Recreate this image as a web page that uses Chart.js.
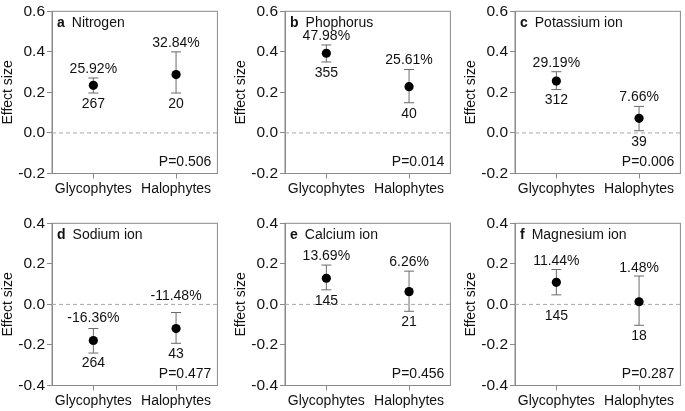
<!DOCTYPE html>
<html>
<head>
<meta charset="utf-8">
<script src="https://cdn.jsdelivr.net/npm/chart.js@4/dist/chart.umd.min.js"></script>
<style>
  html, body { margin: 0; padding: 0; background: #fff; overflow: hidden; }
  #wrap { position: relative; width: 685px; height: 411px; }
  canvas { position: absolute; }
</style>
</head>
<body>
<div id="wrap"></div>
<script>
// ---- data ----
const categories = ['Glycophytes', 'Halophytes'];
const panelLetters = ['a', 'b', 'c', 'd', 'e', 'f'];
const panelNames = ['Nitrogen', 'Phophorus', 'Potassium ion', 'Sodium ion', 'Calcium ion', 'Magnesium ion'];

const effectMeans = [
    [0.235, 0.288],
    [0.393, 0.228],
    [0.256, 0.072],
    [-0.178, -0.119],
    [0.129, 0.063],
    [0.109, 0.013]
];
const ciUpper = [
    [0.271, 0.400],
    [0.434, 0.313],
    [0.302, 0.131],
    [-0.119, -0.040],
    [0.194, 0.164],
    [0.172, 0.140]
];
const ciLower = [
    [0.197, 0.197],
    [0.350, 0.149],
    [0.214, 0.011],
    [-0.240, -0.192],
    [0.072, -0.034],
    [0.047, -0.103]
];
const percentLabels = [
    ['25.92%', '32.84%'],
    ['47.98%', '25.61%'],
    ['29.19%', '7.66%'],
    ['-16.36%', '-11.48%'],
    ['13.69%', '6.26%'],
    ['11.44%', '1.48%']
];
const sampleSizes = [
    [267, 20],
    [355, 40],
    [312, 39],
    [264, 43],
    [145, 21],
    [145, 18]
];
const pLabels = ['P=0.506', 'P=0.014', 'P=0.006', 'P=0.477', 'P=0.456', 'P=0.287'];
const yMins = [-0.2, -0.2, -0.2, -0.4, -0.4, -0.4];
const yMaxs = [0.6, 0.6, 0.6, 0.4, 0.4, 0.4];

// ---- layout / style ----
const FONT = "'Liberation Sans', Arial, sans-serif";
const FS = 14;
const TICK_FS = 15.5;
const TEXT = '#111';
const FRAME = '#8a8a8a';
const colLefts = [0, 232.5, 463];
const rowTops = [0, 211.5];
const CW = 222, CH = 205;

// a few labels sit a bit further from their bars in the original
const labelGaps = {
    3: { pct: [10, 16], n: [10, 11] },
    5: { pct: [8, 8], n: [21, 11] }
};

const decor = {
    id: 'decor',
    beforeDatasetsDraw(chart) {
        const i = chart.options.plugins.decor.index;
        const { ctx, chartArea: ca } = chart;
        const x = chart.scales.x, y = chart.scales.y;
        ctx.save();
        // frame
        ctx.strokeStyle = FRAME;
        ctx.lineWidth = 1;
        ctx.strokeRect(ca.left, ca.top, ca.right - ca.left, ca.bottom - ca.top);
        // zero line
        const y0 = y.getPixelForValue(0);
        ctx.strokeStyle = '#a8a8a8';
        ctx.setLineDash([4, 3]);
        ctx.beginPath();
        ctx.moveTo(ca.left, y0);
        ctx.lineTo(ca.right, y0);
        ctx.stroke();
        ctx.setLineDash([]);
        // error bars
        ctx.strokeStyle = '#6a6a6a';
        categories.forEach((c, j) => {
            const px = x.getPixelForValue(j);
            const top = y.getPixelForValue(ciUpper[i][j]);
            const bot = y.getPixelForValue(ciLower[i][j]);
            ctx.beginPath();
            ctx.moveTo(px, top); ctx.lineTo(px, bot);
            ctx.moveTo(px - 5, top); ctx.lineTo(px + 5, top);
            ctx.moveTo(px - 5, bot); ctx.lineTo(px + 5, bot);
            ctx.stroke();
        });
        ctx.restore();
    },
    afterDatasetsDraw(chart) {
        const i = chart.options.plugins.decor.index;
        const { ctx, chartArea: ca } = chart;
        const x = chart.scales.x, y = chart.scales.y;
        const gaps = labelGaps[i] || { pct: [9, 9], n: [11, 11] };
        ctx.save();
        ctx.fillStyle = TEXT;
        ctx.textBaseline = 'middle';
        ctx.font = FS + 'px ' + FONT;
        ctx.textAlign = 'center';
        categories.forEach((c, j) => {
            const px = x.getPixelForValue(j);
            const top = y.getPixelForValue(ciUpper[i][j]);
            const bot = y.getPixelForValue(ciLower[i][j]);
            ctx.fillText(percentLabels[i][j], px, top - gaps.pct[j]);
            ctx.fillText(String(sampleSizes[i][j]), px, bot + gaps.n[j]);
        });
        // P value
        ctx.textAlign = 'right';
        ctx.fillText(pLabels[i], ca.right - 6, ca.bottom - 11.5);
        // panel title
        ctx.textAlign = 'left';
        ctx.font = 'bold ' + FS + 'px ' + FONT;
        const tx = ca.left + 5;
        ctx.fillText(panelLetters[i], tx, ca.top + 12);
        const w = ctx.measureText(panelLetters[i]).width;
        ctx.font = FS + 'px ' + FONT;
        ctx.fillText(panelNames[i], tx + w + 7, ca.top + 12);
        ctx.restore();
    }
};

function renderPanel(i) {
    const canvas = document.createElement('canvas');
    canvas.width = CW;
    canvas.height = CH;
    canvas.style.left = colLefts[i % 3] + 'px';
    canvas.style.top = rowTops[Math.floor(i / 3)] + 'px';
    canvas.style.width = CW + 'px';
    canvas.style.height = CH + 'px';
    document.getElementById('wrap').appendChild(canvas);

    const font = { family: FONT, size: FS };

    new Chart(canvas.getContext('2d'), {
        type: 'line',
        data: {
            labels: categories,
            datasets: [{
                data: effectMeans[i],
                showLine: false,
                pointRadius: 4.6,
                pointBackgroundColor: '#000',
                pointBorderColor: '#000',
                pointBorderWidth: 0
            }]
        },
        options: {
            responsive: false,
            animation: false,
            layout: { padding: { top: 6.5, right: 3, left: 0, bottom: 0 } },
            plugins: {
                legend: { display: false },
                tooltip: { enabled: false },
                decor: { index: i }
            },
            scales: {
                x: {
                    type: 'category',
                    offset: true,
                    grid: { drawOnChartArea: false, tickLength: 5, color: FRAME, offset: false },
                    border: { color: FRAME },
                    ticks: { font: font, color: TEXT, padding: 2, maxRotation: 0 },
                    afterFit: s => { s.height = 31.5; }
                },
                y: {
                    min: yMins[i],
                    max: yMaxs[i],
                    grid: { drawOnChartArea: false, tickLength: 5, color: FRAME },
                    border: { color: FRAME },
                    ticks: {
                        stepSize: 0.2,
                        font: { family: FONT, size: TICK_FS },
                        color: TEXT,
                        padding: 2,
                        callback: v => Math.abs(v) < 1e-9 ? '0.0' : Number(v).toFixed(1)
                    },
                    title: { display: true, text: 'Effect size', font: font, color: TEXT, padding: { top: 0, bottom: 0 } },
                    afterFit: s => { s.width = 52; }
                }
            }
        },
        plugins: [decor]
    });
}

for (let i = 0; i < 6; i++) renderPanel(i);
</script>
</body>
</html>
